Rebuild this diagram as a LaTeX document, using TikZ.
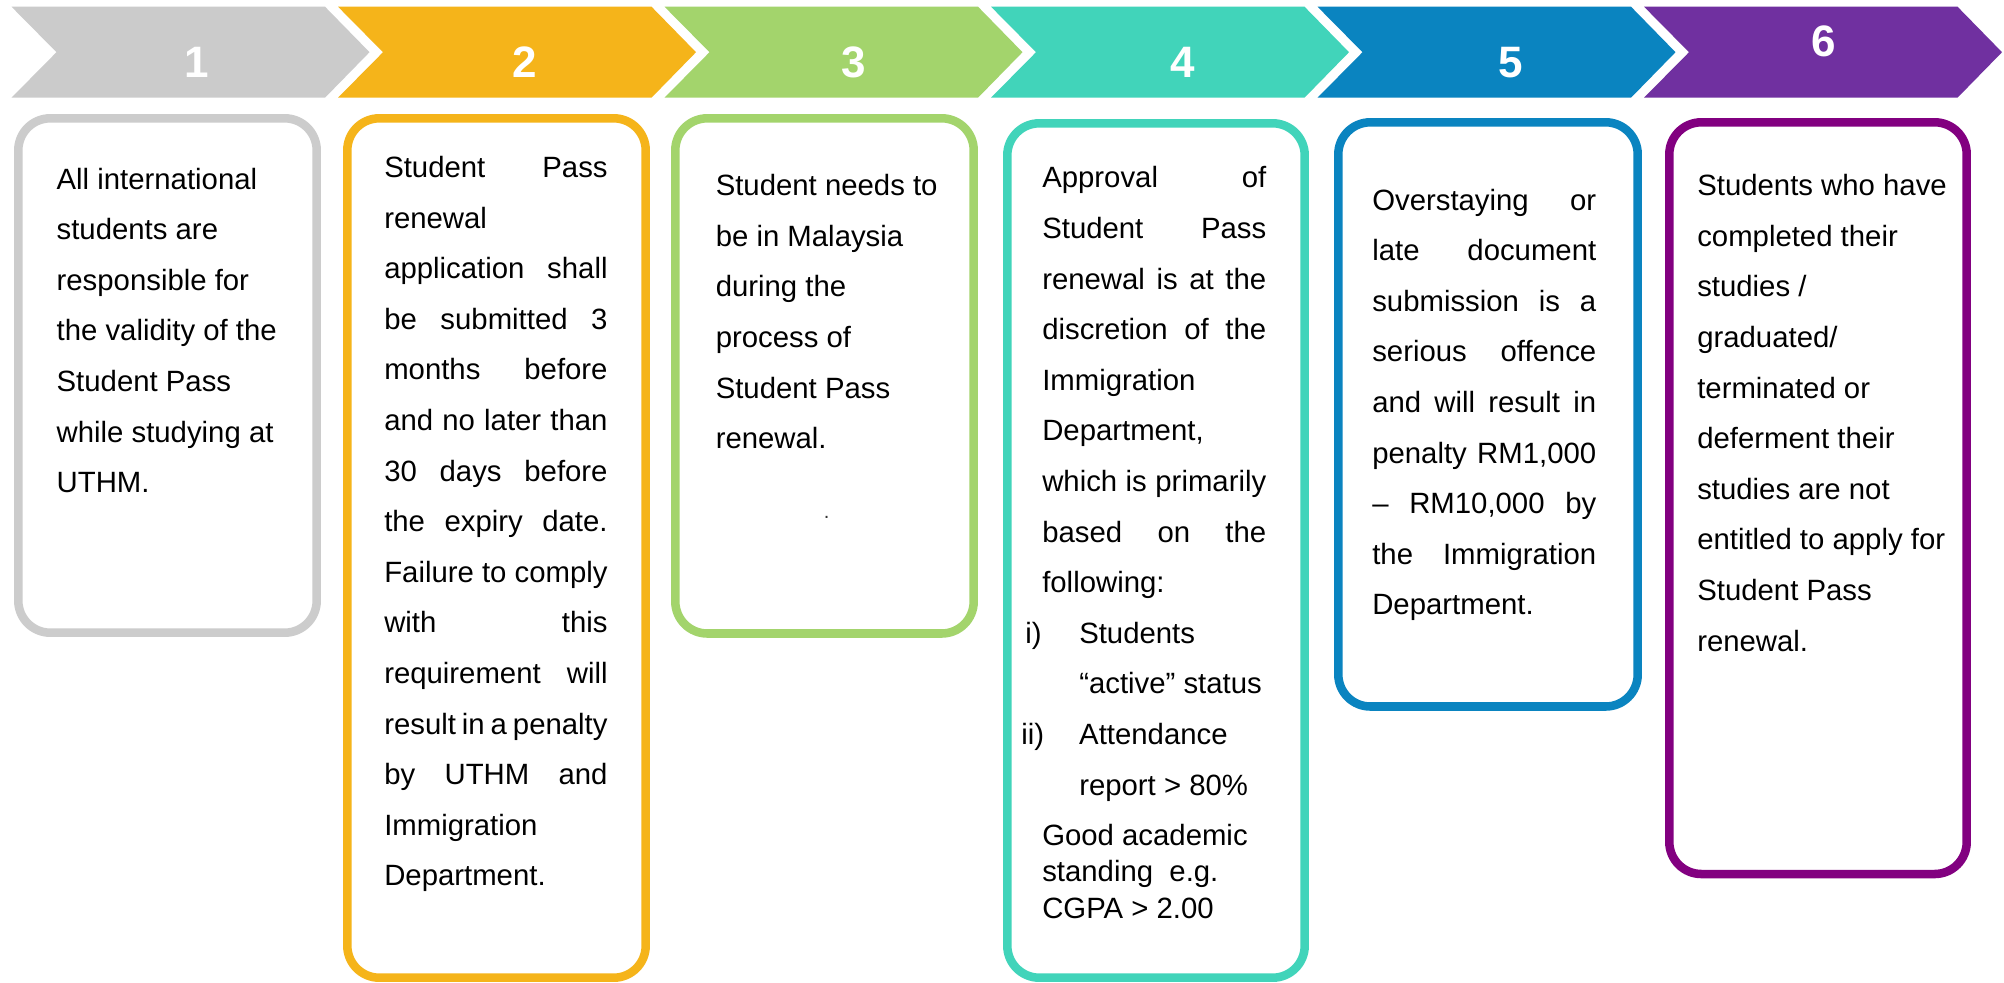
\documentclass[tikz,border=0pt]{standalone}
\usepackage{fontspec}
\setmainfont{Liberation Sans}
\setlength\parindent{0pt}
\definecolor{cgrey}{HTML}{CBCBCB}
\definecolor{corange}{HTML}{F5B41A}
\definecolor{cgreen}{HTML}{A3D46C}
\definecolor{cteal}{HTML}{41D4BA}
\definecolor{cblue}{HTML}{0A84C0}
\definecolor{cpurple}{HTML}{7030A0}
\definecolor{bgrey}{HTML}{CCCCCC}
\definecolor{bpurple}{HTML}{820080}
\newcommand\J[1]{\makebox[\linewidth][s]{#1}}
\begin{document}
\begin{tikzpicture}[x=0.75pt,y=-0.75pt,
  card/.style={draw=#1, line width=6.4pt, rounded corners=24pt},
  num/.style={text=white, font=\fontsize{33pt}{33pt}\selectfont\bfseries, inner sep=0pt},
  body/.style={anchor=base west, inner sep=0pt, text=black, font=\fontsize{22pt}{37.95pt}\selectfont}]
\useasboundingbox (0,0) rectangle (2004,982);
\fill[white] (0,0) rectangle (2004,982);
% chevrons
\foreach \k/\c in {0/cgrey,1/corange,2/cgreen,3/cteal,4/cblue,5/cpurple}{
  \pgfmathsetmacro\L{11.5+326.5*\k}
  \fill[\c] (\L,6.7) -- ++(313.5,0) -- ++(44.5,45.5) -- ++(-44.5,45.5) -- ++(-313.5,0) -- ++(45,-45.5) -- cycle;
}
\node[num] (n1) at (196.5,62.5) {1};
\node[num] (n2) at (525,62.5) {2};
\node[num] (n3) at (854,62.5) {3};
\node[num] (n4) at (1183,62.5) {4};
\node[num] (n5) at (1511,62.5) {5};
\node[num] (n6) at (1823.5,41.3) {6};
% cards
\draw[card=bgrey] (18.3,118.3) rectangle (316.7,632.7);
\draw[card=corange] (347.3,118.3) rectangle (645.7,977.7);
\draw[card=cgreen] (675.3,118.3) rectangle (973.7,633.5);
\draw[card=cteal] (1007.3,123.3) rectangle (1304.7,977.7);
\draw[card=cblue] (1338.3,122.3) rectangle (1637.7,706.5);
\draw[card=bpurple] (1669.3,122.3) rectangle (1966.7,874);
% texts
\node[body] (t1) at (56.4,189) {\parbox[t]{176pt}{All international\\students are\\responsible for\\the validity of the\\Student Pass\\while studying at\\UTHM.}};
\node[body] (t2) at (384,177.5) {\parbox[t]{167.5pt}{\J{Student Pass}\\renewal\\\J{application shall}\\\J{be submitted 3}\\\J{months before}\\\J{and no later than}\\\J{30 days before}\\\J{the expiry date.}\\\J{Failure to comply}\\\J{with this}\\\J{requirement will}\\\J{result in a penalty}\\\J{by UTHM and}\\Immigration\\Department.}};
\node[body] (t3) at (715.5,195.7) {\parbox[t]{180pt}{Student needs to\\be in Malaysia\\during the\\process of\\Student Pass\\renewal.}};
\node[inner sep=0pt, text=black!80, font=\fontsize{15pt}{15pt}\selectfont] (dot3) at (826.7,517.7) {.};
\node[body] (t4) at (1042,187.8) {\parbox[t]{168pt}{\J{Approval of}\\\J{Student Pass}\\\J{renewal is at the}\\\J{discretion of the}\\Immigration\\Department,\\\J{which is primarily}\\\J{based on the}\\following:\\\hspace*{-12.75pt}\makebox[40.5pt][l]{i)}Students\\\hspace*{27.75pt}“active” status\\\hspace*{-15.75pt}\makebox[43.5pt][l]{ii)}Attendance\\\hspace*{27.75pt}report > 80\%}};
\node[body, font=\fontsize{22pt}{27.4pt}\selectfont] (t4b) at (1042,845) {\parbox[t]{168pt}{Good academic\\standing\ \ e.g.\\CGPA > 2.00}};
\node[body] (t5) at (1372,210) {\parbox[t]{168pt}{\J{Overstaying or}\\\J{late document}\\\J{submission is a}\\\J{serious offence}\\\J{and will result in}\\\J{penalty RM1,000}\\\J{– RM10,000 by}\\\J{the Immigration}\\Department.}};
\node[body] (t6) at (1697,195.7) {\parbox[t]{195pt}{Students who have\\completed their\\studies /\\graduated/\\terminated or\\deferment their\\studies are not\\entitled to apply for\\Student Pass\\renewal.}};
\end{tikzpicture}
\end{document}
